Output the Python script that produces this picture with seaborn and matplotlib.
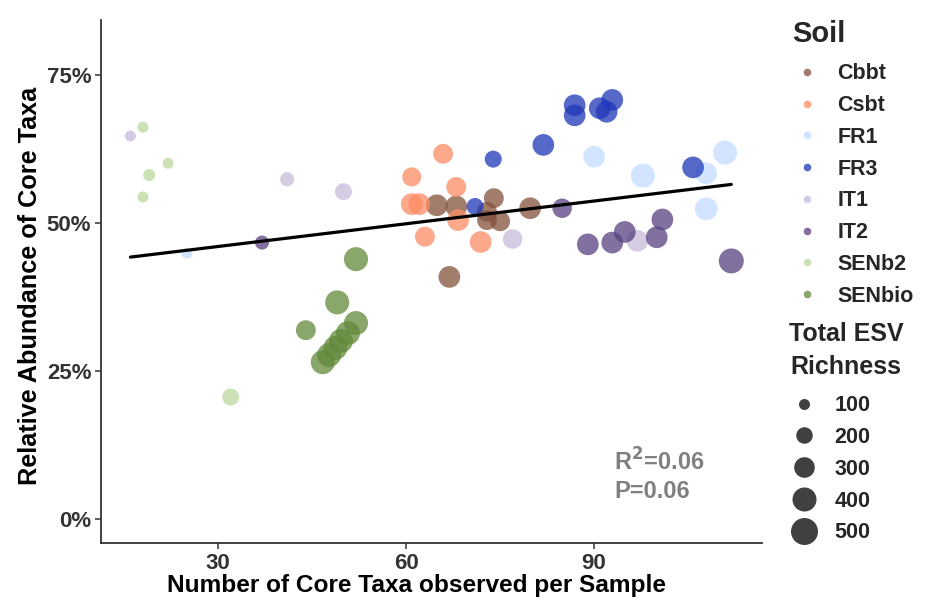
import numpy as np
import pandas as pd
import seaborn as sns
import matplotlib.pyplot as plt
from matplotlib.lines import Line2D

# ---------------- data ----------------
soil_levels = ["Cbbt", "Csbt", "FR1", "FR3", "IT1", "IT2", "SENb2", "SENbio"]
soil_colors = ["#84513B", "#FC8C64", "#C4DCFF", "#1E37B8", "#C8BBDC", "#574080", "#BCD89C", "#62883A"]

soil = (["Cbbt"] * 8 + ["Csbt"] * 8 + ["FR1"] * 6 + ["FR3"] * 9 +
        ["IT1"] * 5 + ["IT2"] * 8 + ["SENb2"] * 5 + ["SENbio"] * 9)
core_taxa = [
    64.9, 68.0, 74.0, 72.9, 72.9, 75.0, 79.8, 66.9,            # Cbbt
    65.9, 60.9, 68.0, 60.9, 62.1, 68.3, 63.0, 71.9,            # Csbt
    25.0, 90.0, 97.8, 107.9, 107.9, 110.9,                     # FR1
    73.9, 71.0, 81.9, 86.9, 86.9, 90.9, 92.0, 92.9, 105.8,     # FR3
    16.0, 41.0, 50.0, 77.0, 96.9,                              # IT1
    37.0, 84.9, 89.0, 92.9, 94.9, 100.0, 100.9, 111.9,         # IT2
    18.0, 22.0, 19.0, 18.0, 32.0,                              # SENb2
    52.0, 49.0, 44.0, 52.0, 50.7, 49.6, 48.7, 47.7, 46.7,      # SENbio
]
rel_abundance = [
    53.0, 52.8, 54.2, 51.9, 50.5, 50.3, 52.5, 40.9,
    61.7, 57.8, 56.1, 53.2, 53.2, 50.5, 47.7, 46.8,
    44.9, 61.2, 58.0, 58.4, 52.4, 61.9,
    60.8, 52.8, 63.2, 69.9, 68.2, 69.4, 68.8, 70.8, 59.4,
    64.7, 57.4, 55.3, 47.3, 47.0,
    46.7, 52.5, 46.4, 46.7, 48.5, 47.6, 50.6, 43.6,
    66.2, 60.1, 58.1, 54.4, 20.6,
    43.9, 36.6, 31.9, 33.1, 31.4, 30.1, 28.9, 27.7, 26.5,
]
esv_richness = [
    330, 330, 280, 280, 280, 280, 330, 330,
    280, 260, 280, 330, 330, 330, 280, 330,
    80, 330, 400, 330, 360, 400,
    210, 210, 330, 330, 330, 330, 330, 330, 330,
    95, 150, 210, 270, 330,
    150, 270, 330, 330, 330, 330, 330, 430,
    45, 90, 115, 55, 210,
    400, 400, 280, 400, 400, 400, 400, 400, 400,
]
size_breaks = [100, 200, 300, 400, 500]
x_ticks = [30, 60, 90]
y_ticks = [0, 25, 50, 75]
fit_intercept = 42.2
fit_slope = 0.128
stats_text = ["R$^2$=0.06", "P=0.06"]

df = pd.DataFrame({"Soil": soil, "core": core_taxa, "rel": rel_abundance, "rich": esv_richness})
palette = dict(zip(soil_levels, soil_colors))

# ---------------- style ----------------
sns.set_theme(style="ticks")
plt.rcParams['font.family'] = ['Liberation Sans', 'DejaVu Sans']
plt.rcParams['font.weight'] = 'bold'

fig = plt.figure(figsize=(9.29, 6.08), dpi=100)
ax = fig.add_axes([101 / 929, 1 - 543 / 608, (762 - 101) / 929, (543 - 20) / 608])

SIZES = (63, 378)
NORM = (100, 500)
ALPHA = 0.75
sns.scatterplot(data=df, x="core", y="rel", hue="Soil", hue_order=soil_levels, palette=palette,
                size="rich", sizes=SIZES, size_norm=NORM, alpha=ALPHA, edgecolor="none",
                linewidth=0, legend=False, ax=ax)

xs = np.array([df["core"].min(), df["core"].max()])
line_df = pd.DataFrame({"x": xs, "y": fit_intercept + fit_slope * xs})
sns.lineplot(data=line_df, x="x", y="y", color="black", linewidth=2.3, ax=ax)

ax.text(93.2, 9.6, stats_text[0], color="#808080", fontsize=17, fontweight="bold", va="center", ha="left")
ax.text(93.2, 4.6, stats_text[1], color="#808080", fontsize=17, fontweight="bold", va="center", ha="left")

ax.set_xlim(11.3, 116.8)
ax.set_ylim(-4.05, 84.3)
ax.set_xticks(x_ticks)
ax.set_yticks(y_ticks)
ax.set_yticklabels([f"{v}%" for v in y_ticks])
ax.tick_params(axis="both", labelsize=16, colors="#333333", length=4, width=1.1, labelcolor="#333333", pad=3)
for lab in ax.get_xticklabels() + ax.get_yticklabels():
    lab.set_fontweight("bold")
ax.set_xlabel("Number of Core Taxa observed per Sample", fontsize=17.6, fontweight="bold", color="black")
ax.set_ylabel("Relative Abundance of Core Taxa", fontsize=18.2, fontweight="bold", color="black")
ax.xaxis.set_label_coords((417 - 101) / 661, -(574 - 543) / 523)
ax.yaxis.set_label_coords(-(101 - 42) / 661, (543 - 286) / 523)
for s in ["top", "right"]:
    ax.spines[s].set_visible(False)
for s in ["left", "bottom"]:
    ax.spines[s].set_color("#333333")
    ax.spines[s].set_linewidth(1.3)

# ---------------- legends ----------------
LEG_FS = 15.5
soil_handles = [Line2D([], [], marker="o", ls="", color=c, alpha=ALPHA, markersize=5.5, markeredgewidth=0)
                for c in soil_colors]
leg1 = fig.legend(soil_handles, soil_levels, loc="upper left", bbox_to_anchor=(792 / 929, 1 - 20 / 608),
                  frameon=False, title="Soil", fontsize=LEG_FS, borderpad=0, borderaxespad=0,
                  handlelength=1.4, handletextpad=0.7, labelspacing=0.5,
                  title_fontproperties={"size": 21, "weight": "bold"})
leg1._legend_box.align = "left"
leg1._legend_box.sep = 11

def size_ms(v):
    s = SIZES[0] + (v - NORM[0]) / (NORM[1] - NORM[0]) * (SIZES[1] - SIZES[0])
    return np.sqrt(s)

size_handles = [Line2D([], [], marker="o", ls="", color="black", alpha=ALPHA, markersize=size_ms(v),
                       markeredgewidth=0) for v in size_breaks]
leg2 = fig.legend(size_handles, [str(v) for v in size_breaks], loc="upper left",
                  bbox_to_anchor=(789 / 929, 1 - 322 / 608), frameon=False,
                  title="Total ESV\nRichness", fontsize=LEG_FS, borderpad=0, borderaxespad=0,
                  handlelength=1.4, handletextpad=0.7, labelspacing=0.5,
                  title_fontproperties={"size": 18, "weight": "bold"})
leg2.get_title().set_multialignment("center")
leg2.get_title().set_linespacing(1.45)
leg2._legend_box.align = "left"
leg2._legend_box.sep = 12

fig.savefig("out.png", dpi=100)
